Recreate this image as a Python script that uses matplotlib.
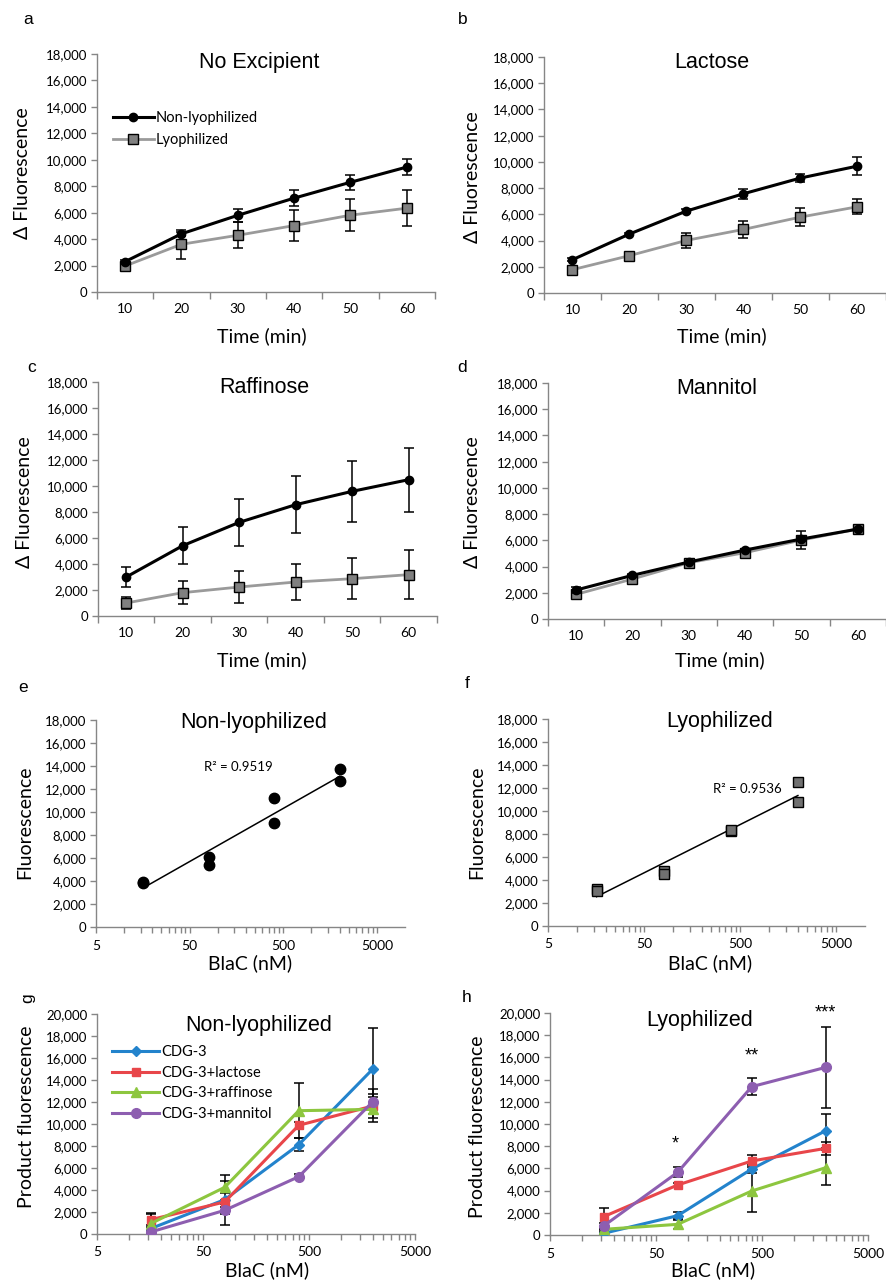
import numpy as np
import matplotlib
matplotlib.use("Agg")
import matplotlib.pyplot as plt
from matplotlib.ticker import FixedLocator, FuncFormatter, NullFormatter

# ---------------- data ----------------
time_labels = ["10", "20", "30", "40", "50", "60"]

# a: No Excipient
a_non = [2300, 4400, 5800, 7100, 8300, 9450]
a_non_err = [150, 150, 500, 600, 570, 630]
a_lyo = [1970, 3610, 4290, 5025, 5810, 6340]
a_lyo_err = [250, 1090, 1000, 1150, 1230, 1360]
# b: Lactose
b_non = [2540, 4500, 6250, 7570, 8770, 9680]
b_non_err = [100, 100, 150, 380, 330, 680]
b_lyo = [1780, 2850, 4015, 4850, 5790, 6580]
b_lyo_err = [150, 150, 560, 660, 710, 560]
# c: Raffinose
c_non = [3000, 5410, 7205, 8564, 9590, 10487]
c_non_err = [770, 1410, 1800, 2200, 2330, 2450]
c_lyo = [1000, 1795, 2230, 2615, 2870, 3180]
c_lyo_err = [470, 860, 1200, 1370, 1590, 1870]
# d: Mannitol
d_non = [2210, 3330, 4345, 5260, 6100, 6860]
d_non_err = [200, 120, 100, 100, 150, 100]
d_lyo = [1880, 3050, 4295, 5060, 6020, 6860]
d_lyo_err = [150, 150, 100, 150, 700, 100]

# e / f: standard curves (BlaC nM)
e_x = [16, 16, 80, 80, 400, 400, 2000, 2000]
e_y = [3850, 3950, 6090, 5420, 11190, 9070, 13710, 12700]
f_x = [16, 16, 80, 80, 400, 400, 2000, 2000]
f_y = [3200, 3080, 4770, 4480, 8300, 8380, 12560, 10790]

# g / h: product fluorescence
blac = [16, 80, 400, 2000]
series_names = ["CDG-3", "CDG-3+lactose", "CDG-3+raffinose", "CDG-3+mannitol"]
g_vals = {
    "CDG-3": [485, 3120, 8120, 15000],
    "CDG-3+lactose": [1300, 2910, 9880, 11640],
    "CDG-3+raffinose": [940, 4240, 11210, 11330],
    "CDG-3+mannitol": [180, 2150, 5210, 12030],
}
g_errs = {
    "CDG-3": [300, 2270, 600, 3730],
    "CDG-3+lactose": [640, 200, 300, 1120],
    "CDG-3+raffinose": [850, 550, 2520, 1150],
    "CDG-3+mannitol": [150, 300, 200, 1120],
}
h_vals = {
    "CDG-3": [150, 1740, 5945, 9400],
    "CDG-3+lactose": [1650, 4505, 6667, 7807],
    "CDG-3+raffinose": [510, 960, 3964, 6066],
    "CDG-3+mannitol": [810, 5645, 13363, 15105],
}
h_errs = {
    "CDG-3": [150, 350, 400, 1530],
    "CDG-3+lactose": [800, 200, 530, 600],
    "CDG-3+raffinose": [100, 450, 1870, 1600],
    "CDG-3+mannitol": [300, 450, 770, 3650],
}
h_stars = [(76, 8200, "*"), (400, 16100, "**"), (2000, 20000, "***")]

# ---------------- style ----------------
W, H = 887, 1282
fig = plt.figure(figsize=(W / 100, H / 100), dpi=100)
TICKF = ["Lato", "DejaVu Sans"]
TITLEF = ["Liberation Sans", "DejaVu Sans"]
AXCOL = "#868686"
series_style = {
    "CDG-3": dict(color="#2383CC", marker="D", ms=5.5),
    "CDG-3+lactose": dict(color="#E8464A", marker="s", ms=6),
    "CDG-3+raffinose": dict(color="#8DC63F", marker="^", ms=7),
    "CDG-3+mannitol": dict(color="#8D5EB0", marker="o", ms=7),
}


def add_ax(l, t, r, b):
    return fig.add_axes([l / W, 1 - b / H, (r - l) / W, (b - t) / H])


def ftext(x, y, s, **kw):
    fig.text(x / W, 1 - y / H, s, **kw)


def style_ax(ax, ymax, ystep):
    for sp in ["top", "right"]:
        ax.spines[sp].set_visible(False)
    for sp in ["left", "bottom"]:
        ax.spines[sp].set_color(AXCOL)
        ax.spines[sp].set_linewidth(1.0)
    ax.set_ylim(0, ymax)
    ax.set_yticks(np.arange(0, ymax + 1, ystep))
    ax.yaxis.set_major_formatter(FuncFormatter(lambda v, p: f"{int(v):,}"))
    ax.tick_params(axis="y", direction="out", length=4, color=AXCOL, width=1,
                   labelsize=9.5, pad=3)
    for lab in ax.get_yticklabels():
        lab.set_family(TICKF)


def time_panel(ax, non, non_err, lyo, lyo_err, title, tx, ty, legend=False):
    x = np.arange(len(time_labels))
    style_ax(ax, 18000, 2000)
    ax.set_xlim(-0.5, len(time_labels) - 0.5)
    ax.set_xticks(x)
    ax.set_xticklabels(time_labels, family=TICKF)
    ax.set_xticks(np.arange(-0.5, len(time_labels)), minor=True)
    ax.tick_params(axis="x", which="major", length=0, labelsize=10, pad=8)
    ax.tick_params(axis="x", which="minor", direction="out", length=5,
                   color=AXCOL, width=1)
    ax.errorbar(x, lyo, yerr=lyo_err, fmt="none", ecolor="black", elinewidth=1.1,
                capsize=3.5, capthick=1.1, zorder=2)
    ax.plot(x, lyo, color="#9A9A9A", lw=2, marker="s", ms=6.5, mfc="#808080",
            mec="black", mew=1, zorder=3, label="Lyophilized")
    ax.errorbar(x, non, yerr=non_err, fmt="none", ecolor="black", elinewidth=1.1,
                capsize=3.5, capthick=1.1, zorder=4)
    ax.plot(x, non, color="black", lw=2.2, marker="o", ms=6, zorder=5,
            label="Non-lyophilized")
    ax.text(tx, ty, title, transform=ax.transAxes, ha="center", va="center",
            fontsize=15.5, family=TITLEF)
    if legend:
        h, l = ax.get_legend_handles_labels()
        ax.legend(h[::-1], l[::-1], loc="upper left", bbox_to_anchor=(0.03, 0.785),
                  frameon=False, prop={"family": TICKF, "size": 10.5},
                  handlelength=2.8, handletextpad=0.1, labelspacing=0.55,
                  borderaxespad=0)


def log_axes(ax, xmax, ymax, ystep):
    style_ax(ax, ymax, ystep)
    ax.set_xscale("log")
    ax.set_xlim(5, xmax)
    majors = [5, 50, 500, 5000]
    ax.xaxis.set_major_locator(FixedLocator(majors))
    ax.xaxis.set_major_formatter(FuncFormatter(lambda v, p: f"{int(round(v))}"))
    minors = [5 * 10 ** d * k for d in range(4) for k in range(2, 10)]
    minors = [m for m in minors if m < xmax]
    ax.xaxis.set_minor_locator(FixedLocator(minors))
    ax.xaxis.set_minor_formatter(NullFormatter())
    ax.tick_params(axis="x", which="both", direction="out", length=4,
                   color=AXCOL, width=1, labelsize=10, pad=5)
    for lab in ax.get_xticklabels():
        lab.set_family(TICKF)


def scatter_panel(ax, xs, ys, title, tx, ty, r2x, r2y, r2text, square=False):
    log_axes(ax, 10000, 18000, 2000)
    if square:
        ax.plot(xs, ys, ls="none", marker="s", ms=7, mfc="#707070", mec="black",
                mew=1, zorder=3)
    else:
        ax.plot(xs, ys, ls="none", marker="o", ms=7.5, color="black", zorder=3)
    lx = np.log(np.array(xs, float))
    yv = np.array(ys, float)
    coef = np.polyfit(lx, yv, 1)
    xx = np.array([min(xs), max(xs)], float)
    ax.plot(xx, np.polyval(coef, np.log(xx)), color="black", lw=1.1, zorder=2)
    ax.text(r2x, r2y, r2text, transform=ax.transAxes, ha="center", va="center",
            fontsize=9.5, family=TICKF)
    ax.text(tx, ty, title, transform=ax.transAxes, ha="center", va="center",
            fontsize=15.5, family=TITLEF)


def product_panel(ax, vals, errs, title, tx, ty, legend=False):
    log_axes(ax, 5000, 20000, 2000)
    for name in series_names:
        ax.errorbar(blac, vals[name], yerr=errs[name], fmt="none", ecolor="black",
                    elinewidth=1.1, capsize=3.5, capthick=1.1, zorder=2)
    for name in series_names:
        st = series_style[name]
        ax.plot(blac, vals[name], color=st["color"], lw=2.2, marker=st["marker"],
                ms=st["ms"], mfc=st["color"], mec=st["color"], zorder=3, label=name)
    ax.text(tx, ty, title, transform=ax.transAxes, ha="center", va="center",
            fontsize=15.5, family=TITLEF)
    if legend:
        ax.legend(loc="upper left", bbox_to_anchor=(0.03, 0.885), frameon=False,
                  prop={"family": TICKF, "size": 10.5}, handlelength=3.2,
                  handletextpad=0.15, labelspacing=0.45, borderaxespad=0)


# ---------------- panels ----------------
axa = add_ax(97, 54, 435, 292)
time_panel(axa, a_non, a_non_err, a_lyo, a_lyo_err, "No Excipient", 0.48, 0.966, legend=True)
axb = add_ax(544, 57, 886, 293)
time_panel(axb, b_non, b_non_err, b_lyo, b_lyo_err, "Lactose", 0.49, 0.975)
axc = add_ax(98, 382, 437, 616)
time_panel(axc, c_non, c_non_err, c_lyo, c_lyo_err, "Raffinose", 0.49, 0.975)
axd = add_ax(548, 383, 886, 619)
time_panel(axd, d_non, d_non_err, d_lyo, d_lyo_err, "Mannitol", 0.5, 0.975)

axe = add_ax(96, 720, 405, 927)
scatter_panel(axe, e_x, e_y, "Non-lyophilized", 0.51, 0.99, 0.46, 0.775, "R² = 0.9519")
axf = add_ax(548, 719, 865, 926)
scatter_panel(axf, f_x, f_y, "Lyophilized", 0.54, 0.99, 0.63, 0.66, "R² = 0.9536",
              square=True)

axg = add_ax(97, 1014, 415, 1234)
product_panel(axg, g_vals, g_errs, "Non-lyophilized", 0.51, 0.95, legend=True)
axh = add_ax(550, 1013, 868, 1235)
product_panel(axh, h_vals, h_errs, "Lyophilized", 0.47, 0.964)
for sx, sy, s in h_stars:
    axh.text(sx, sy, s, ha="center", va="center", fontsize=13, family=TITLEF)

# ---------------- axis labels ----------------
LABF = dict(family=TICKF, fontsize=14, ha="center", va="center")
for (x, y) in [(23, 173), (473, 177), (25, 502), (473, 502)]:
    ftext(x, y, "Δ Fluorescence", rotation=90, **LABF)
for (x, y) in [(25, 822), (477, 822)]:
    ftext(x, y, "Fluorescence", rotation=90, **LABF)
for (x, y) in [(27, 1117), (478, 1127)]:
    ftext(x, y, "Product fluorescence", rotation=90, **LABF)
for (x, y) in [(262, 336), (722, 336), (262, 660), (720, 660)]:
    ftext(x, y, "Time (min)", **LABF)
for (x, y) in [(250, 963), (710, 963), (267, 1270), (713, 1270)]:
    ftext(x, y, "BlaC (nM)", **LABF)

# ---------------- panel letters ----------------
PL = dict(family=TITLEF, fontsize=12.5, ha="center", va="center")
ftext(28, 20, "a", **PL)
ftext(463, 20, "b", **PL)
ftext(32, 367, "c", **PL)
ftext(462, 367, "d", **PL)
ftext(23, 687, "e", **PL)
ftext(467, 683, "f", **PL)
ftext(28, 998, "g", rotation=90, **PL)
ftext(467, 998, "h", **PL)

fig.savefig("out.png", dpi=100)
